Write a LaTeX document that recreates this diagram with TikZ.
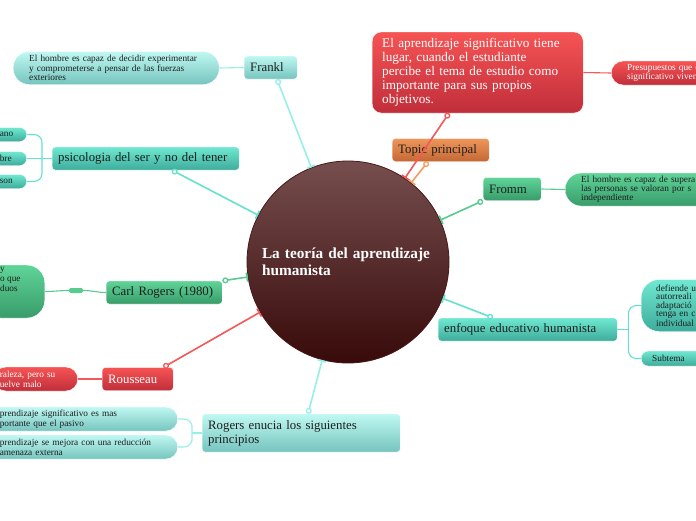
\documentclass[tikz,border=0pt]{standalone}
\usepackage{fontspec}
\setmainfont{Liberation Serif}
\usetikzlibrary{arrows.meta,calc}
\definecolor{ink}{RGB}{28,30,30}
\definecolor{cyantop}{RGB}{192,248,242}
\definecolor{cyanbot}{RGB}{118,196,190}
\definecolor{cyanline}{RGB}{150,240,230}
\definecolor{tealtop}{RGB}{112,232,208}
\definecolor{tealbot}{RGB}{62,172,156}
\definecolor{tealline}{RGB}{100,226,206}
\definecolor{greentop}{RGB}{96,212,152}
\definecolor{greenbot}{RGB}{56,156,106}
\definecolor{greenline}{RGB}{88,204,144}
\definecolor{redtop}{RGB}{246,84,84}
\definecolor{redbot}{RGB}{192,46,58}
\definecolor{redline}{RGB}{245,88,88}
\definecolor{orangetop}{RGB}{238,150,90}
\definecolor{orangebot}{RGB}{196,104,52}
\definecolor{orangeline}{RGB}{246,156,96}
\definecolor{coretop}{RGB}{118,78,78}
\definecolor{corebot}{RGB}{56,10,10}
\definecolor{coreedge}{RGB}{72,24,24}

\begin{document}
\begin{tikzpicture}[
  x=1pt, y=-1pt,
  core/.style={
    circle, minimum size=202pt, draw=coreedge, line width=0.8pt,
    top color=coretop, bottom color=corebot,
    text=white, text width=172pt, align=left,
    font=\fontsize{15.3}{16.5}\selectfont\bfseries
  },
  topic/.style={
    anchor=west, rounded corners=3pt, draw=white, line width=0.4pt,
    minimum height=23pt, inner xsep=6pt, inner ysep=2pt,
    align=left, text=ink, font=\fontsize{12.8}{14}\selectfont
  },
  note/.style={
    draw=white, line width=0.4pt, inner ysep=2pt,
    align=left, text=ink, font=\fontsize{9.3}{9.8}\selectfont
  },
  cyanshade/.style={top color=cyantop, bottom color=cyanbot},
  tealshade/.style={top color=tealtop, bottom color=tealbot},
  greenshade/.style={top color=greentop, bottom color=greenbot},
  redshade/.style={top color=redtop, bottom color=redbot, text=white},
  orangeshade/.style={top color=orangetop, bottom color=orangebot},
  hub/.style={
    {Circle[open,length=6pt,width=6pt,line width=1.3pt]}-{Bar[width=9pt,line width=1.6pt]},
    line width=1.6pt
  },
  cyanflow/.style={hub, draw=cyanline},
  tealflow/.style={hub, draw=tealline},
  greenflow/.style={hub, draw=greenline},
  redflow/.style={hub, draw=redline},
  orangeflow/.style={hub, draw=orangeline},
  cyanlink/.style={line width=1.1pt, draw=cyanline},
  teallink/.style={line width=1.1pt, draw=tealline},
  greenlink/.style={line width=1.1pt, draw=greenline},
  redlink/.style={line width=1.1pt, draw=redline}
]

\fill[white] (0,0) rectangle (696,520);
\useasboundingbox (0,0) rectangle (696,520);

% Central topic.
\node[core] (core) at (348,262) {La teoría del aprendizaje\\humanista};

% Main topics round the centre.
\node[topic, cyanshade, text width=41pt] (frankl) at (244,67.5) {Frankl};
\node[topic, tealshade, text width=175pt] (psico) at (52,158.5) {psicologia del ser y no del tener};
\node[topic, greenshade, text width=104pt] (rogers80) at (106,292.5) {Carl Rogers (1980)};
\node[topic, redshade, text width=59pt] (rousseau) at (102,379) {Rousseau};
\node[topic, cyanshade, text width=186pt, minimum height=38pt]
  (principios) at (202,433) {Rogers enucia los siguientes\\principios};
\node[topic, tealshade, text width=167pt] (enfoque) at (438,329.5) {enfoque educativo humanista};
\node[topic, greenshade, text width=46pt] (fromm) at (483,189) {Fromm};
\node[topic, orangeshade, text width=85pt] (tp) at (392,150) {Topic principal};
\node[topic, redshade, text width=191pt, inner xsep=10pt, rounded corners=9pt,
  minimum height=81pt, font=\fontsize{13.2}{14}\selectfont]
  (aprend) at (372,72.5)
  {El aprendizaje significativo tiene\\lugar, cuando el estudiante\\percibe el tema de estudio como\\importante para sus propios\\objetivos.};

% Subtopics, several of them cut by the page edge.
\node[note, cyanshade, anchor=west, text width=174pt, inner xsep=16pt,
  minimum height=33pt, rounded corners=16pt] (franklnote) at (13,68)
  {El hombre es capaz de decidir experimentar\\y comprometerse a pensar de las fuerzas\\exteriores};

\node[note, tealshade, anchor=east, text width=20pt, inner xsep=7pt,
  minimum height=14pt, rounded corners=7pt] (psicoa) at (27,134.5) {ano};
\node[note, tealshade, anchor=east, text width=20pt, inner xsep=7pt,
  minimum height=14pt, rounded corners=7pt] (psicob) at (27,158.5) {bre};
\node[note, tealshade, anchor=east, text width=20pt, inner xsep=7pt,
  minimum height=14pt, rounded corners=7pt] (psicoc) at (27,181.5) {son};

\node[note, greenshade, anchor=east, minimum width=62pt, minimum height=53pt,
  rounded corners=18pt] (rogers80note) at (45,291.5) {};
\node[note, draw=none, anchor=north west, inner sep=0pt] (rogers80text) at (0,267.5) {y\\o que\\duos};
\node[fill=greenline, rounded corners=2pt, minimum width=14pt, minimum height=5pt,
  inner sep=0pt] (rogers80knob) at (76,290.5) {};

\node[note, redshade, anchor=east, text width=72pt, inner xsep=6pt,
  minimum height=24pt, rounded corners=12pt] (rousseaunote) at (78,379)
  {raleza, pero su\\uelve malo};

\node[note, cyanshade, anchor=east, text width=166pt, inner xsep=12pt,
  minimum height=24pt, rounded corners=12pt] (principa) at (178,419)
  {prendizaje significativo es mas\\portante que el pasivo};
\node[note, cyanshade, anchor=east, text width=166pt, inner xsep=12pt,
  minimum height=24pt, rounded corners=12pt] (principb) at (178,447)
  {prendizaje se mejora con una reducción\\amenaza externa};

\node[note, tealshade, anchor=west, text width=60pt, inner xsep=15pt,
  minimum height=52pt, rounded corners=18pt, font=\fontsize{9.3}{8.4}\selectfont]
  (enfoquea) at (641,305.5) {defiende u\\autorreali\\adaptació\\tenga en c\\individual};
\node[note, tealshade, anchor=west, text width=50pt, inner xsep=11pt,
  minimum height=15pt, rounded corners=7pt] (enfoqueb) at (641,358.5) {Subtema};

\node[note, greenshade, anchor=west, text width=200pt, inner xsep=16pt,
  minimum height=33pt, rounded corners=16pt, font=\fontsize{9.3}{9}\selectfont]
  (frommnote) at (565,189.5)
  {El hombre es capaz de supera\\las personas se valoran por s\\independiente};

\node[note, redshade, anchor=west, text width=90pt, inner xsep=16pt,
  minimum height=24pt, rounded corners=12pt] (aprendnote) at (611,73)
  {Presupuestos que e\\significativo viven};

% Every main topic reaches the centre.
\draw[cyanflow] ([xshift=33pt]frankl.south west) -- (core);
\draw[tealflow] ([xshift=120pt]psico.south west) -- (core);
\draw[greenflow] (rogers80.north east) -- (core);
\draw[redflow] ([xshift=-10pt]rousseau.north east) -- (core);
\draw[cyanflow] ([xshift=106pt]principios.north west) -- (core);
\draw[tealflow] ([xshift=55pt]enfoque.north west) -- (core);
\draw[greenflow] (fromm.south west) -- (core);
\draw[orangeflow] ([xshift=36pt]tp.south west) -- (core);
\draw[redflow] ([xshift=77pt]aprend.south west) -- (core);

% Links from each topic to its subtopics.
\draw[cyanlink] (franklnote.east) -- (frankl.west);

\coordinate (psicojoin) at ([xshift=-10pt]psico.west);
\draw[teallink, rounded corners=8pt] (psicoa.east) -| (psicojoin) |- (psicoc.east);
\draw[teallink] (psicob.east) -- (psico.west);

\draw[greenlink] (rogers80note.east) to[out=0,in=180] (rogers80knob.west);
\draw[greenlink] (rogers80knob.east) to[out=0,in=180] (rogers80.west);

\draw[redlink] (rousseaunote.east) -- (rousseau.west);

\coordinate (principjoin) at ([xshift=-10pt]principios.west);
\draw[cyanlink, rounded corners=8pt] (principa.east) -| (principjoin) |- (principb.east);
\draw[cyanlink] (principjoin) -- (principios.west);

\coordinate (enfoquejoin) at ([xshift=11pt]enfoque.east);
\draw[teallink, rounded corners=8pt] (enfoquea.west) -| (enfoquejoin) |- (enfoqueb.west);
\draw[teallink] (enfoque.east) -- (enfoquejoin);

\draw[greenlink] (fromm.east) -- (frommnote.west);
\draw[redlink] (aprend.east) -- (aprendnote.west);

\end{tikzpicture}
\end{document}
